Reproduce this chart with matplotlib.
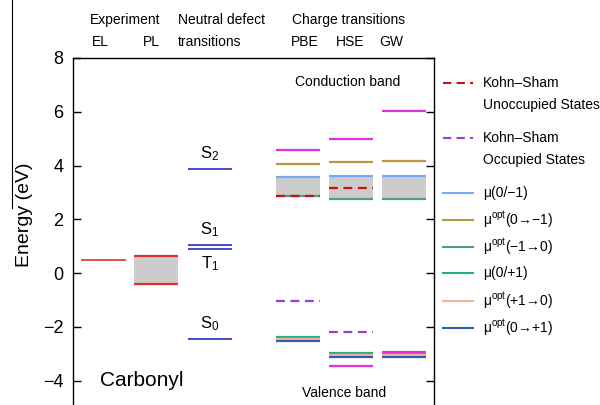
import matplotlib
matplotlib.use("Agg")
import matplotlib.pyplot as plt
from matplotlib.lines import Line2D

plt.rcParams["font.family"] = ["Liberation Sans", "DejaVu Sans"]
plt.rcParams["mathtext.fontset"] = "custom"
plt.rcParams["mathtext.rm"] = "Liberation Sans"
plt.rcParams["mathtext.it"] = "Liberation Sans:italic"

# Experimental levels (eV)
el_level = 0.47
pl_low, pl_high = -0.41, 0.64

# Neutral defect transitions (eV)
neutral_names = ["S$_2$", "S$_1$", "T$_1$", "S$_0$"]
neutral_levels = [3.88, 1.05, 0.89, -2.46]

# Charge transitions for each method (eV); None = not shown
methods = ["PBE", "HSE", "GW"]
ks_unocc = [2.86, 3.16, None]
ks_occ = [-1.03, -2.20, None]
mu_0_m1 = [3.57, 3.62, 3.62]
mu_opt_0_m1 = [4.06, 4.14, 4.16]
mu_opt_m1_0 = [2.85, 2.74, 2.74]
mu_0_p1 = [-2.39, -2.96, -2.96]
mu_opt_p1_0 = [-2.47, -3.05, -3.05]
mu_opt_0_p1 = [-2.53, -3.11, -3.11]
upper_extra = [4.57, 4.98, 6.03]
lower_extra = [None, -3.46, -2.95]

# column centres along x
col_x = {"EL": 0.58, "PL": 1.58, "neutral": 2.61, "PBE": 4.29, "HSE": 5.29, "GW": 6.30}
hw = 0.42

c_red = "#e03030"
c_gray = "#cccccc"
c_nblue = "#3a3ad0"
c_magenta = "#e030e0"
c_gold = "#b89840"
c_lblue = "#78a8ee"
c_teal = "#4f9a8c"
c_green = "#22b088"
c_salmon = "#f8b496"
c_blue = "#2f5db0"
c_ksred = "#cc1010"
c_purple = "#9a3ce0"

fig = plt.figure(figsize=(6.0, 4.05), dpi=100)
ax = fig.add_axes([73 / 600, -0.0062, 361 / 600, 0.863])
ax.set_xlim(0, 6.876)
ax.set_ylim(-5, 8)


def level(x, y, color, ls="-", lw=1.6):
    if y is None:
        return
    ax.plot([x - hw, x + hw], [y, y], color=color, ls=ls, lw=lw, solid_capstyle="butt")


# experiment
level(col_x["EL"], el_level, c_red, lw=1.2)
ax.fill_between([col_x["PL"] - hw, col_x["PL"] + hw], pl_low, pl_high, color=c_gray, lw=0)
level(col_x["PL"], pl_low, c_red)
level(col_x["PL"], pl_high, c_red)

# neutral defect transitions
nx = col_x["neutral"]
for y in neutral_levels:
    level(nx, y, c_nblue, lw=1.3)
ax.text(nx, neutral_levels[0] + 0.22, neutral_names[0], ha="center", va="bottom", fontsize=12)
ax.text(nx, neutral_levels[1] + 0.22, neutral_names[1], ha="center", va="bottom", fontsize=12)
ax.text(nx, neutral_levels[2] - 0.2, neutral_names[2], ha="center", va="top", fontsize=12)
ax.text(nx, neutral_levels[3] + 0.22, neutral_names[3], ha="center", va="bottom", fontsize=12)

# charge transitions
for i, m in enumerate(methods):
    x = col_x[m]
    ax.fill_between([x - hw, x + hw], mu_opt_m1_0[i], mu_0_m1[i], color=c_gray, lw=0)
    level(x, mu_0_m1[i], c_lblue)
    level(x, mu_opt_0_m1[i], c_gold)
    level(x, mu_opt_m1_0[i], c_teal)
    level(x, upper_extra[i], c_magenta)
    level(x, mu_0_p1[i], c_green)
    level(x, mu_opt_p1_0[i], c_salmon)
    level(x, mu_opt_0_p1[i], c_blue)
    level(x, lower_extra[i], c_magenta)
    level(x, ks_unocc[i], c_ksred, ls=(0, (4, 2.5)))
    level(x, ks_occ[i], c_purple, ls=(0, (4, 2.5)))

ax.text(5.24, 7.1, "Conduction band", ha="center", va="center", fontsize=10)
ax.text(5.16, -4.45, "Valence band", ha="center", va="center", fontsize=10)
ax.text(1.3, -4.0, "Carbonyl", ha="center", va="center", fontsize=15)

# column headers above the frame
hdr = dict(transform=ax.get_xaxis_transform(), fontsize=10, va="center", clip_on=False)
ax.text(0.99, 1.109, "Experiment", ha="center", **hdr)
ax.text(0.53, 1.046, "EL", ha="center", **hdr)
ax.text(1.50, 1.046, "PL", ha="center", **hdr)
ax.text(2.00, 1.109, "Neutral defect", ha="left", **hdr)
ax.text(2.00, 1.046, "transitions", ha="left", **hdr)
ax.text(5.24, 1.109, "Charge transitions", ha="center", **hdr)
for m, hx in zip(methods, [4.42, 5.28, 6.06]):
    ax.text(hx, 1.046, m, ha="center", **hdr)

ax.set_xticks([])
ax.set_yticks([-4, -2, 0, 2, 4, 6, 8])
ax.tick_params(axis="y", direction="in", length=6, width=1, right=True,
               labelright=False, labelsize=13, pad=7)
for s in ax.spines.values():
    s.set_linewidth(1.0)
ax.set_ylabel("Energy (eV)", fontsize=14)
ax.yaxis.set_label_coords(-0.111, 0.551)

# legend drawn at the right of the frame
legend_items = [
    (83, c_ksred, "--", ["Kohn\u2013Sham", "Unoccupied States"]),
    (138, c_purple, "--", ["Kohn\u2013Sham", "Occupied States"]),
    (193, c_lblue, "-", ["\u03bc(0/\u22121)"]),
    (220, c_gold, "-", ["\u03bc$^{\\rm opt}$(0\u2192\u22121)"]),
    (247, c_teal, "-", ["\u03bc$^{\\rm opt}$(\u22121\u21920)"]),
    (273, c_green, "-", ["\u03bc(0/+1)"]),
    (301, c_salmon, "-", ["\u03bc$^{\\rm opt}$(+1\u21920)"]),
    (328, c_blue, "-", ["\u03bc$^{\\rm opt}$(0\u2192+1)"]),
]
H = 405.0
for ypx, col, ls, lines in legend_items:
    yf = 1 - ypx / H
    dash = (0, (4, 2.5)) if ls == "--" else "-"
    fig.add_artist(Line2D([443 / 600, 473 / 600], [yf, yf], color=col, ls=dash, lw=1.5))
    for k, t in enumerate(lines):
        fig.text(483 / 600, 1 - (ypx + 22 * k) / H, t, fontsize=10, ha="left", va="center")

fig.add_artist(Line2D([12 / 600, 12 / 600], [1.0, 1 - 208 / H], color="black", lw=0.8))

fig.savefig("out.png", dpi=100)
